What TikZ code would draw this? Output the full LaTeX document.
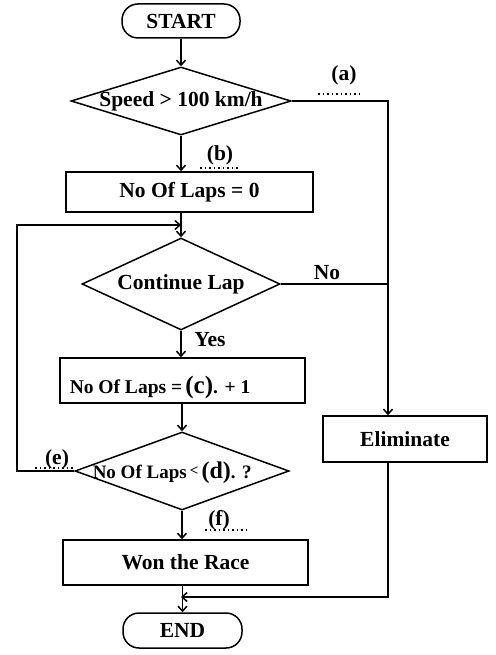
\documentclass[tikz,border=0pt]{standalone}
\usepackage{fontspec}
\setmainfont{Liberation Serif}
\usetikzlibrary{shapes.geometric,arrows.meta,calc}
\begin{document}
\begin{tikzpicture}[x=1pt,y=1pt,
  line width=1.5pt,
  >={Straight Barb[length=5pt,width=9pt]},
  txt/.style={font=\bfseries\fontsize{21.5}{25}\selectfont},
  term/.style={draw,rectangle,rounded corners=16pt,txt,inner sep=0pt},
  proc/.style={draw,rectangle,txt,inner sep=0pt},
  dec/.style={draw,diamond,inner sep=0pt},
  lab/.style={txt,inner sep=0pt},
  dots/.style={line width=1.3pt,dash pattern=on 1.5pt off 3pt}]
\useasboundingbox (0,0) rectangle (495,-655);
% nodes
\node[term,minimum width=118pt,minimum height=34pt] (start) at (181,-21) {START};
\node[dec,minimum width=220pt,minimum height=68pt,label={[lab]center:Speed > 100 km/h}] (d1) at (181,-101) {};
\node[proc,minimum width=247pt,minimum height=40pt] (b1) at (189.5,-192) {No Of Laps = 0};
\node[dec,minimum width=198pt,minimum height=92pt,label={[lab]center:Continue Lap}] (d2) at (181,-284) {};
\node[proc,minimum width=245pt,minimum height=45pt] (b3) at (182.5,-380.5) {};
\node[lab,anchor=west] (b3t) at (69,-387) {\fontsize{19.5}{23}\selectfont No Of Laps =\,{\fontsize{25}{28}\selectfont(c)}. + 1};
\node[dec,minimum width=214pt,minimum height=78pt] (d3) at (182,-471) {};
\node[lab,anchor=west] (d3t) at (92,-473) {\fontsize{19}{22}\selectfont No Of Laps\,\raisebox{3pt}{\fontsize{15}{17}\selectfont<}\,{\fontsize{24}{27}\selectfont(d)}. ?};
\node[proc,minimum width=245pt,minimum height=45pt] (won) at (185.5,-562.5) {Won the Race};
\node[term,minimum width=119pt,minimum height=35pt] (end) at (182.5,-630.5) {END};
\node[proc,minimum width=164pt,minimum height=46pt] (elim) at (405,-439) {Eliminate};
% coordinates
\coordinate (ra) at (388,-101);
\coordinate (j) at (181,-225);
\coordinate (lx) at (17,-471);
\coordinate (m) at (181,-597);
% connectors
\draw[->] (start.south -| d1.north) -- (d1.north);
\draw[->] (d1.east) -- (ra) -- (elim.north -| ra);
\draw[->] (d1.south) -- (d1.south |- b1.north);
\draw[->] (b1.south -| j) -- (d2.north);
\draw[->] (d3.west) -- (lx) |- (j);
\draw (d2.east) -- (d2.east -| ra);
\draw[->] (d2.south) -- (d2.south |- b3.north);
\draw[->] (b3.south -| d3.north) -- (d3.north);
\draw[->] (d3.south) -- (d3.south |- won.north);
\draw[->] (won.south -| end.north) -- (end.north);
\draw[->] (elim.south -| ra) |- (m);
% labels
\node[lab] (la) at (344,-75) {(a)};
\draw[dots] (318,-94) -- (363,-94);
\node[lab] (lb) at (220,-155) {(b)};
\draw[dots] (200,-168) -- (240,-168);
\node[lab] (le) at (57,-459) {(e)};
\draw[dots] (35,-468) -- (73,-468);
\node[lab] (lf) at (219,-520) {(f)};
\draw[dots] (205,-530) -- (250,-530);
\node[lab] (lno) at (327,-273) {No};
\node[lab] (lyes) at (210,-340) {Yes};
\end{tikzpicture}
\end{document}
